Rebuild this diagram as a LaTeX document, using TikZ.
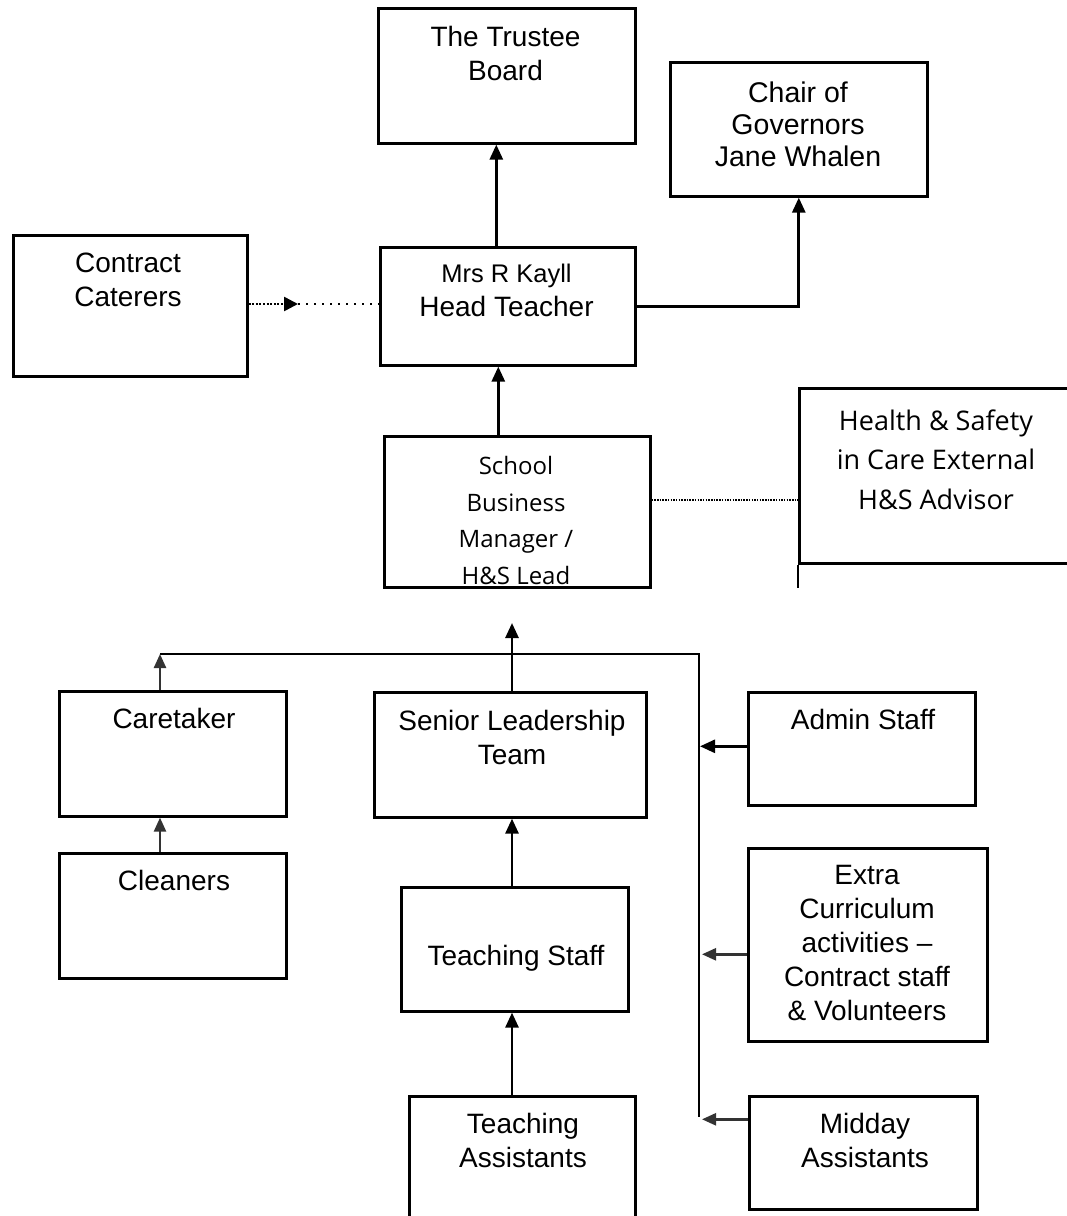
\documentclass[tikz,border=0pt]{standalone}
\usepackage{fontspec}
\setmainfont{Liberation Sans}
\newfontfamily\segfont{Open Sans}
\usetikzlibrary{arrows.meta,calc}
\begin{document}
\begin{tikzpicture}[x=1pt,y=-1pt,
  box/.style={draw, line width=2.6pt, inner sep=0pt, anchor=north west},
  lbl/.style={align=center, inner sep=0pt, anchor=base, font=\fontsize{28}{34}\selectfont},
  seglbl/.style={align=center, inner sep=0pt, anchor=base, font=\segfont\fontsize{24}{36.5}\selectfont},
  hslbl/.style={align=center, inner sep=0pt, anchor=base, font=\segfont\fontsize{27}{39.5}\selectfont},
  arr/.style={line width=2.7pt, -{Triangle[length=15pt,width=13pt]}},
  arrthin/.style={line width=2.4pt, draw=black!80, -{Triangle[length=14pt,width=12pt]}},
  bus/.style={line width=2pt},
  densedot/.style={line width=2.6pt, dash pattern=on 2pt off 1.6pt},
  sparsedot/.style={line width=2.2pt, dash pattern=on 2pt off 6pt},
  finedot/.style={line width=1.8pt, dash pattern=on 1.5pt off 1.2pt},
]
\clip (0,0) rectangle (1067,1216);
\fill[white] (0,0) rectangle (1067,1216);

% top boxes (text nodes are anchored at the baseline of their last line)
\node[box, minimum width=257pt, minimum height=135pt] (trustee) at (377,7) {};
\node[lbl] (trustee-t) at (505.5,80) {The Trustee\\Board};

\node[box, minimum width=257pt, minimum height=134pt] (chair) at (669,61) {};
\node[lbl, font=\fontsize{28.5}{32}\selectfont] (chair-t) at (798,166) {Chair of\\Governors\\Jane Whalen};

\node[box, minimum width=255pt, minimum height=118pt] (head) at (379,246) {};
\node[lbl] (head-t) at (506.5,316) {{\fontsize{25.5}{34}\selectfont Mrs R Kayll}\\Head Teacher};

\node[box, minimum width=234pt, minimum height=141pt] (cc) at (12,234) {};
\node[lbl] (cc-t) at (128,306) {Contract\\Caterers};

\node[box, minimum width=266pt, minimum height=151pt] (sbm) at (383,435) {};
\node[seglbl] (sbm-t) at (516,584) {School\\Business\\Manager /\\H\&S Lead};

\node[box, minimum width=282pt, minimum height=175pt] (hs) at (798,387) {};
\node[hslbl] (hs-t) at (936,509) {Health \& Safety\\in Care External\\H\&S Advisor};
\draw[line width=2.6pt] (hs.south west) -- ++(0,23);

% lower boxes
\node[box, minimum width=227pt, minimum height=125pt] (ct) at (58,690) {};
\node[lbl] (ct-t) at (174,728) {Caretaker};

\node[box, minimum width=227pt, minimum height=125pt] (cl) at (58,852) {};
\node[lbl] (cl-t) at (174,890) {Cleaners};

\node[box, minimum width=272pt, minimum height=125pt] (slt) at (373,691) {};
\node[lbl] (slt-t) at (512,764) {Senior Leadership\\Team};

\node[box, minimum width=227pt, minimum height=124pt] (ts) at (400,886) {};
\node[lbl] (ts-t) at (516,965) {Teaching Staff};

\node[box, minimum width=226pt, minimum height=140pt] (ta) at (408,1095) {};
\node[lbl] (ta-t) at (523,1167) {Teaching\\Assistants};

\node[box, minimum width=227pt, minimum height=113pt] (admin) at (747,691) {};
\node[lbl] (admin-t) at (863,729) {Admin Staff};

\node[box, minimum width=239pt, minimum height=193pt] (extra) at (747,847) {};
\node[lbl] (extra-t) at (867,1020) {Extra\\Curriculum\\activities \textendash\\Contract staff\\\& Volunteers};

\node[box, minimum width=228pt, minimum height=113pt] (midday) at (748,1095) {};
\node[lbl] (midday-t) at (865,1167) {Midday\\Assistants};

% upper connectors
\draw[arr] ([xshift=-11.5pt]head.north) -- ([xshift=-11.5pt]head.north |- trustee.south);
\draw[arr] (head.east) -| (chair.south);
\draw[arr] ([xshift=-19pt]sbm.north) -- ([xshift=-19pt]sbm.north |- head.south);

\coordinate (cctip) at (298,304);
\draw[densedot, -{Triangle[length=14pt,width=14pt]}] (cc.east |- cctip) -- (cctip);
\draw[sparsedot] (cctip) -- (head.west |- cctip);

\coordinate (hsdot) at (798,500);
\draw[finedot] (sbm.east |- hsdot) -- (hsdot);

% lower connectors
\coordinate (busL) at (160,654);
\coordinate (busR) at (699,654);
\coordinate (busB) at (699,1117);
\coordinate (uptip) at (512,623);
\draw[bus] (busL) -- (busR) -- (busB);
\draw[arr] (uptip |- slt.north) -- (uptip);
\draw[arrthin] (busL |- ct.north) -- (busL);
\draw[arrthin] (busL |- cl.north) -- (busL |- ct.south);
\draw[arr] (uptip |- ts.north) -- (uptip |- slt.south);
\draw[arr] (uptip |- ta.north) -- (uptip |- ts.south);
\draw[arr] ([yshift=2.5pt]admin.west) -- ([yshift=2.5pt,xshift=1pt]admin.west -| busR);
\draw[arrthin] ([yshift=-9.5pt]extra.west) -- ([yshift=-9.5pt,xshift=3pt]extra.west -| busR);
\draw[arrthin] ([yshift=33.5pt]midday.west) -- ([yshift=33.5pt,xshift=3pt]midday.west -| busR);
\end{tikzpicture}
\end{document}
